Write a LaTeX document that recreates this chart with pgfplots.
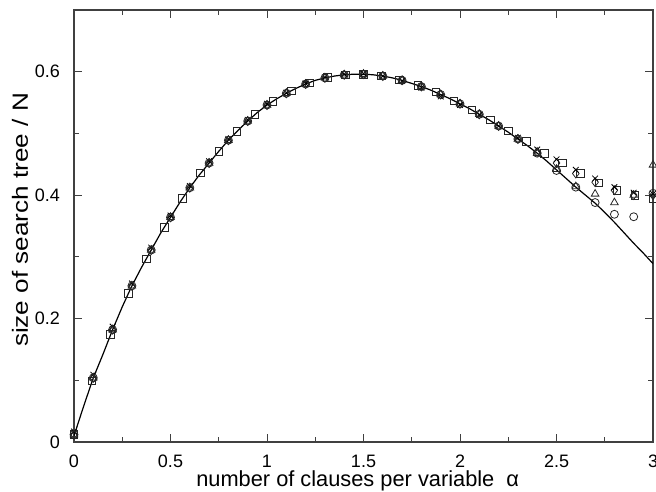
\documentclass[border=0pt]{standalone}
\usepackage{fontspec}
\setmainfont{Liberation Sans}
\usepackage{graphicx}
\usepackage{pgfplots}
\usepackage{pgfplotstable}
\pgfplotsset{compat=1.18}

\pgfplotstableread{
x y
0 0.010
0.05 0.058
0.1 0.104
0.15 0.142
0.2 0.182
0.25 0.219
0.3 0.253
0.35 0.283
0.4 0.311
0.45 0.339
0.5 0.364
0.55 0.389
0.6 0.412
0.65 0.433
0.7 0.452
0.75 0.471
0.8 0.489
0.85 0.505
0.9 0.520
0.95 0.534
1.0 0.546
1.05 0.556
1.1 0.565
1.15 0.573
1.2 0.580
1.25 0.586
1.3 0.590
1.35 0.593
1.4 0.595
1.45 0.596
1.5 0.596
1.55 0.595
1.6 0.593
1.65 0.590
1.7 0.586
1.75 0.581
1.8 0.576
1.85 0.570
1.9 0.563
1.95 0.556
2.0 0.548
2.05 0.540
2.1 0.531
2.15 0.522
2.2 0.512
2.25 0.502
2.3 0.491
2.35 0.480
2.4 0.468
2.45 0.455
2.5 0.441
2.55 0.427
2.6 0.413
2.65 0.400
2.7 0.387
2.75 0.372
2.8 0.356
2.85 0.339
2.9 0.322
2.95 0.306
3.0 0.289
}\curve

\pgfplotstableread{
x y
0 0.012
0.09375 0.099
0.1875 0.174
0.28125 0.241
0.375 0.297
0.46875 0.348
0.5625 0.395
0.65625 0.436
0.75 0.471
0.84375 0.503
0.9375 0.531
1.03125 0.552
1.125 0.569
1.21875 0.582
1.3125 0.591
1.40625 0.595
1.5 0.596
1.59375 0.593
1.6875 0.587
1.78125 0.578
1.875 0.567
1.96875 0.553
2.0625 0.538
2.15625 0.522
2.25 0.504
2.34375 0.487
2.4375 0.468
2.53125 0.452
2.625 0.435
2.71875 0.420
2.8125 0.408
2.90625 0.400
3.0 0.395
}\squares

\pgfplotstableread{
x y
0 0.012
0.1 0.104
0.2 0.182
0.3 0.253
0.4 0.311
0.5 0.364
0.6 0.412
0.7 0.452
0.8 0.489
0.9 0.520
1.0 0.546
1.1 0.565
1.2 0.580
1.3 0.590
1.4 0.595
1.5 0.596
1.6 0.593
1.7 0.586
1.8 0.576
1.9 0.563
2.0 0.548
2.1 0.531
2.2 0.512
2.3 0.491
2.4 0.470
2.5 0.452
2.6 0.435
2.7 0.421
2.8 0.408
2.9 0.400
3.0 0.400
}\diamonds

\pgfplotstableread{
x y
0 0.017
0.1 0.109
0.2 0.187
0.3 0.257
0.4 0.315
0.5 0.367
0.6 0.415
0.7 0.455
0.8 0.491
0.9 0.522
1.0 0.548
1.1 0.566
1.2 0.581
1.3 0.591
1.4 0.596
1.5 0.597
1.6 0.593
1.7 0.585
1.8 0.574
1.9 0.560
2.0 0.546
2.1 0.530
2.2 0.512
2.3 0.493
2.4 0.474
2.5 0.458
2.6 0.441
2.7 0.427
2.8 0.413
2.9 0.404
3.0 0.402
}\crosses

\pgfplotstableread{
x y
0 0.012
0.1 0.104
0.2 0.182
0.3 0.253
0.4 0.311
0.5 0.364
0.6 0.412
0.7 0.452
0.8 0.489
0.9 0.520
1.0 0.546
1.1 0.565
1.2 0.580
1.3 0.590
1.4 0.595
1.5 0.596
1.6 0.593
1.7 0.586
1.8 0.576
1.9 0.563
2.0 0.548
2.1 0.531
2.2 0.512
2.3 0.491
2.4 0.468
2.5 0.440
2.6 0.413
2.7 0.388
2.8 0.369
2.9 0.365
3.0 0.403
}\circles

\pgfplotstableread{
x y
0 0.012
0.1 0.104
0.2 0.182
0.3 0.253
0.4 0.311
0.5 0.364
0.6 0.412
0.7 0.452
0.8 0.489
0.9 0.520
1.0 0.546
1.1 0.565
1.2 0.580
1.3 0.590
1.4 0.595
1.5 0.596
1.6 0.593
1.7 0.586
1.8 0.576
1.9 0.563
2.0 0.548
2.1 0.531
2.2 0.512
2.3 0.491
2.4 0.468
2.5 0.442
2.6 0.414
2.7 0.402
2.8 0.388
2.9 0.400
3.0 0.449
}\triangles

\begin{document}
\begin{tikzpicture}
\begin{axis}[
  at={(0,0)}, anchor=south west,
  scale only axis, width=289.5pt, height=216pt,
  xmin=0, xmax=3, ymin=0, ymax=0.7,
  xtick={0,0.5,1,1.5,2,2.5,3},
  ytick={0,0.2,0.4,0.6},
  minor x tick num=1, minor y tick num=1,
  tick align=inside,
  major tick length=4pt, minor tick length=2.5pt,
  axis line style={black!75, line width=0.6pt},
  every tick/.style={black!75, line width=0.5pt},
  /pgf/number format/assume math mode=true,
  tick label style={font=\fontsize{9}{10}\selectfont},
  xticklabel style={anchor=base, yshift=-12.75pt},
  yticklabel style={anchor=east, xshift=-3.5pt},
  xlabel={number of clauses per variable\ \ α},
  xlabel style={at={(axis description cs:0.49,-0.089)}, anchor=center, font=\fontsize{10.9}{12}\selectfont},
]
\addplot[black, line width=0.6pt, no marks] table {\curve};
\addplot[only marks, black!85, mark=square, mark size=1.9pt, mark options={line width=0.4pt}] table {\squares};
\addplot[only marks, black!85, mark=diamond, mark size=2.2pt, mark options={line width=0.4pt}] table {\diamonds};
\addplot[only marks, black, mark=x, mark size=2pt, mark options={line width=0.4pt}] table {\crosses};
\addplot[only marks, black!85, mark=o, mark size=2pt, mark options={line width=0.4pt}] table {\circles};
\addplot[only marks, black!85, mark=triangle, mark size=2.2pt, mark options={line width=0.4pt}] table {\triangles};
\end{axis}
\node[rotate=90, anchor=center, inner sep=0pt, font=\fontsize{11}{12}\selectfont] at (-27pt,111pt) {\resizebox{127pt}{\height}{size of search tree / N}};
\pgfresetboundingbox
\path[use as bounding box] (-37pt,-24.5pt) rectangle (291pt,221pt);
\end{tikzpicture}
\end{document}
